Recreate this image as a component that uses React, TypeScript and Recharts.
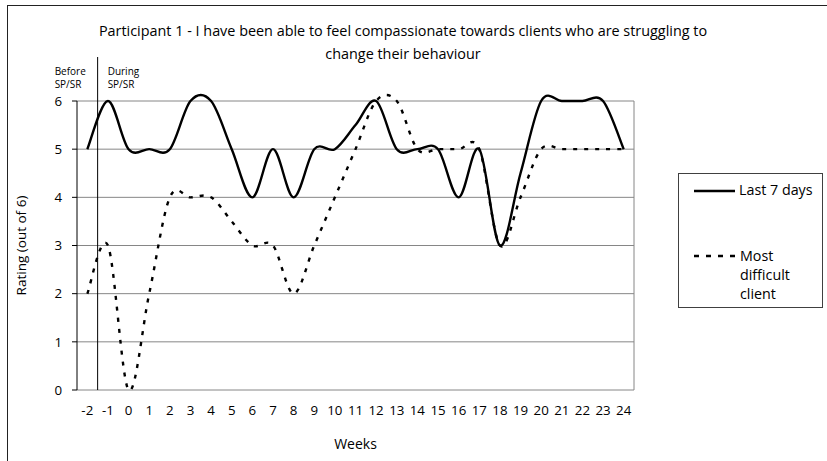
import React from "react";
import {CartesianGrid, Label, Legend, Line, LineChart, ReferenceLine, XAxis, YAxis} from "recharts";

const weeks = [-2, -1, 0, 1, 2, 3, 4, 5, 6, 7, 8, 9, 10, 11, 12, 13, 14, 15, 16, 17, 18, 19, 20, 21, 22, 23, 24];
const last7Days = [5, 6, 5, 5, 5, 6, 6, 5, 4, 5, 4, 5, 5, 5.5, 6, 5, 5, 5, 4, 5, 3, 4.5, 6, 6, 6, 6, 5];
const mostDifficult = [2, 3, 0, 2, 4, 4, 4, 3.5, 3, 3, 2, 3, 4, 5, 6, 6, 5, 5, 5, 5, 3, 4, 5, 5, 5, 5, 5];
const ratingTicks = [0, 1, 2, 3, 4, 5, 6];
// tick marks sit between the weeks, like Excel's category axis
const boundaryTicks = [...weeks.map(w => w - 0.5), weeks[weeks.length - 1] + 0.5];

const data = weeks.map((w, i) => ({week: w, "Last 7 days": last7Days[i], "Most difficult client": mostDifficult[i]}));

const FONT = "'Open Sans', Lato, sans-serif";
const GRID = "#868686";

// Excel style smoothed line (catmull-rom through every point)
function excelSmooth(context: any) {
    let pts: number[][] = [];
    return {
        areaStart() {},
        areaEnd() {},
        lineStart() { pts = []; },
        point(x: number, y: number) { pts.push([+x, +y]); },
        lineEnd() {
            const n = pts.length;
            if (!n) return;
            context.moveTo(pts[0][0], pts[0][1]);
            for (let i = 0; i < n - 1; i++) {
                const p0 = pts[Math.max(i - 1, 0)];
                const p1 = pts[i];
                const p2 = pts[i + 1];
                const p3 = pts[Math.min(i + 2, n - 1)];
                context.bezierCurveTo(
                    p1[0] + (p2[0] - p0[0]) / 6, p1[1] + (p2[1] - p0[1]) / 6,
                    p2[0] - (p3[0] - p1[0]) / 6, p2[1] - (p3[1] - p1[1]) / 6,
                    p2[0], p2[1]);
            }
        },
    };
}

const renderLegend = (props: any) => {
    const items = props.payload || [];
    return (
        <div style={{width: 145, height: 135, border: "1px solid #404040", boxSizing: "border-box", position: "relative", fontFamily: FONT, fontSize: 14.3, color: "#000", background: "#fff", textAlign: "left"}}>
            <svg style={{position: "absolute", left: 0, top: 0}} width={145} height={135}>
                <line x1={15} x2={56} y1={17} y2={17} stroke="#000" strokeWidth={2.5}/>
                <line x1={15} x2={60} y1={82} y2={82} stroke="#000" strokeWidth={2.5} strokeDasharray="5 7"/>
            </svg>
            <div style={{position: "absolute", left: 60, top: 6, lineHeight: "20px", whiteSpace: "nowrap"}}>{items[0]?.value}</div>
            <div style={{position: "absolute", left: 61, top: 72, width: 60, lineHeight: "19px"}}>{items[1]?.value}</div>
        </div>
    );
};

const phaseLabel = (props: any) => {
    const {x, y} = props.viewBox;
    return (
        <g fontFamily={FONT} fontSize={10} fill="#000">
            <line x1={x} x2={x} y1={y - 44} y2={y} stroke="#000" strokeWidth={1}/>
            <text x={x - 43} y={y - 26}>Before</text>
            <text x={x - 43} y={y - 13}>SP/SR</text>
            <text x={x + 10} y={y - 26}>During</text>
            <text x={x + 10} y={y - 13}>SP/SR</text>
        </g>
    );
};

export default function App() {
    return (
        <div style={{position: "absolute", left: 0, top: 0, width: 827, height: 461, overflow: "hidden", background: "#fff"}}>
            <div style={{position: "absolute", left: 7, top: 5, width: 900, height: 500, border: "1.5px solid #222"}}/>
            <div style={{position: "absolute", left: 0, width: 806, top: 19, textAlign: "center", fontFamily: FONT, fontSize: 14.4, lineHeight: "23px", color: "#000"}}>
                Participant 1 - I have been able to feel compassionate towards clients who are struggling to<br/>change their behaviour
            </div>
            <div style={{position: "absolute", left: 0, top: 0}}>
                <LineChart width={827} height={461} data={data} margin={{top: 101, right: 193, bottom: 41, left: 0}}>
                    <CartesianGrid vertical={false} stroke={GRID} strokeWidth={1}/>
                    <XAxis xAxisId="frame" dataKey="week" type="number" domain={[-2.5, 24.5]} ticks={boundaryTicks}
                           height={0} tickSize={5} tickFormatter={() => ""} stroke="#000" axisLine={{stroke: "#000"}}
                           tickLine={{stroke: "#000"}}/>
                    <XAxis xAxisId="weeks" dataKey="week" type="number" domain={[-2.5, 24.5]} ticks={weeks}
                           height={30} tickSize={6} tickMargin={10} tickLine={false} axisLine={false} interval={0}
                           tick={{fill: "#000", fontFamily: FONT, fontSize: 13.3}}>
                        <Label content={(p: any) => (
                            <text x={p.viewBox.x + p.viewBox.width / 2} y={p.viewBox.y + 59} textAnchor="middle"
                                  fontFamily={FONT} fontSize={14} fill="#000">Weeks</text>
                        )}/>
                    </XAxis>
                    <YAxis domain={[0, 6]} ticks={ratingTicks} width={77} tickSize={5} tickMargin={10} interval={0}
                           axisLine={{stroke: "#000"}} tickLine={{stroke: "#000"}}
                           tick={{fill: "#000", fontFamily: FONT, fontSize: 13.3}}>
                        <Label content={(p: any) => {
                            const cy = p.viewBox.y + p.viewBox.height / 2;
                            return (
                                <text x={26} y={cy} transform={`rotate(-90, 26, ${cy})`} textAnchor="middle"
                                      fontFamily={FONT} fontSize={13.5} fill="#000">Rating (out of 6)</text>
                            );
                        }}/>
                    </YAxis>
                    <ReferenceLine xAxisId="frame" x={24.5} stroke={GRID} strokeWidth={1}/>
                    <ReferenceLine xAxisId="frame" x={-1.5} stroke="#000" strokeWidth={1} label={phaseLabel}/>
                    <Line xAxisId="frame" type={excelSmooth as any} dataKey="Last 7 days" stroke="#000" strokeWidth={2.4}
                          dot={false} activeDot={false} isAnimationActive={false}/>
                    <Line xAxisId="frame" type={excelSmooth as any} dataKey="Most difficult client" stroke="#000" strokeWidth={2.4}
                          strokeDasharray="4 7" dot={false} activeDot={false} isAnimationActive={false}/>
                    <Legend content={renderLegend} layout="horizontal" verticalAlign="middle" align="center"
                            wrapperStyle={{left: 678, top: 173, width: 145, height: 135}}/>
                </LineChart>
            </div>
        </div>
    );
}
